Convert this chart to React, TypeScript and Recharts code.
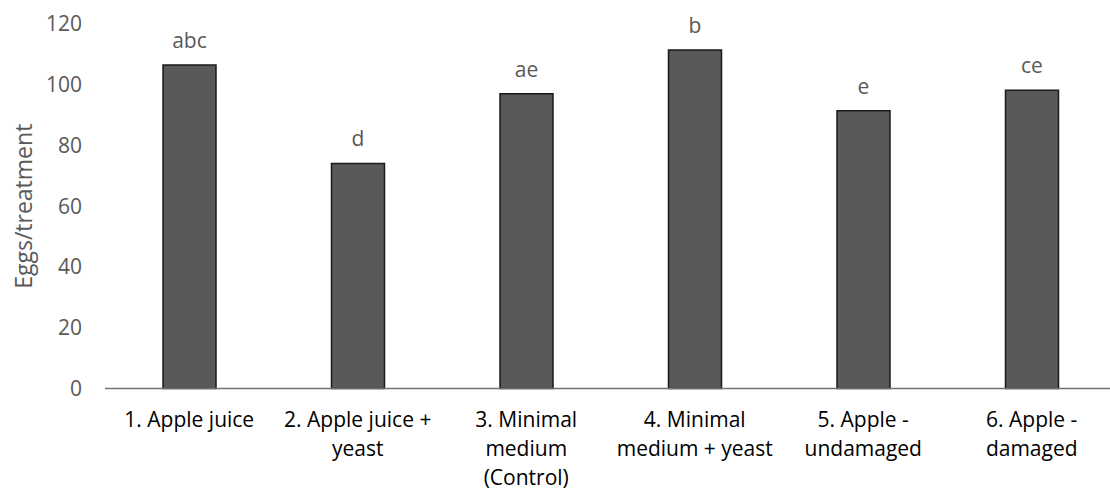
import { BarChart, Bar, XAxis, YAxis, LabelList } from 'recharts'

// treatment names; "\n" marks where the axis label wraps
const treatments = [
	'1. Apple juice',
	'2. Apple juice +\nyeast',
	'3. Minimal\nmedium\n(Control)',
	'4. Minimal\nmedium + yeast',
	'5. Apple -\nundamaged',
	'6. Apple -\ndamaged',
]

const eggCounts = [106.5, 74.1, 97.0, 111.4, 91.4, 98.2]

// significance groups shown above each bar
const groupLetters = ['abc', 'd', 'ae', 'b', 'e', 'ce']

const yTicks = [0, 20, 40, 60, 80, 100, 120]

const data = treatments.map((name, i) => ({
	name,
	eggs: eggCounts[i],
	letters: groupLetters[i],
}))

const FONT = '"Open Sans", sans-serif'

function CategoryTick({ x, y, payload }: any) {
	const lines = String(payload.value).split('\n')
	return (
		<text
			x={x}
			y={y + 38}
			textAnchor="middle"
			fill="#000000"
			fontSize={21}
			fontFamily={FONT}
		>
			{lines.map((line, i) => (
				<tspan key={i} x={x} dy={i === 0 ? 0 : 29}>
					{line}
				</tspan>
			))}
		</text>
	)
}

export default function App() {
	return (
		<div
			style={{
				position: 'absolute',
				left: 0,
				top: 0,
				width: 1110,
				height: 490,
				overflow: 'hidden',
				background: '#ffffff',
			}}
		>
			<BarChart
				width={1116}
				height={490}
				data={data}
				margin={{ top: 24, right: 0, bottom: 0, left: 0 }}
			>
				<XAxis
					dataKey="name"
					height={101.5}
					interval={0}
					tickLine={false}
					tickSize={0}
					tickMargin={0}
					stroke="#737373"
					strokeWidth={1.5}
					tick={<CategoryTick />}
				/>
				<YAxis
					width={105}
					domain={[0, 120]}
					ticks={yTicks}
					axisLine={false}
					tickLine={false}
					tickSize={0}
					tickMargin={23}
					tick={{ fill: '#595959', fontSize: 21, fontFamily: FONT }}
					label={{
						value: 'Eggs/treatment',
						angle: -90,
						position: 'center',
						dx: -29,
						fill: '#595959',
						fontSize: 23,
						fontFamily: FONT,
					}}
				/>
				<Bar
					dataKey="eggs"
					barSize={53}
					fill="#595959"
					stroke="#1a1a1a"
					strokeWidth={1.5}
					isAnimationActive={false}
				>
					<LabelList
						dataKey="letters"
						position="top"
						offset={17}
						fill="#595959"
						fontSize={21}
						fontFamily={FONT}
					/>
				</Bar>
			</BarChart>
		</div>
	)
}
